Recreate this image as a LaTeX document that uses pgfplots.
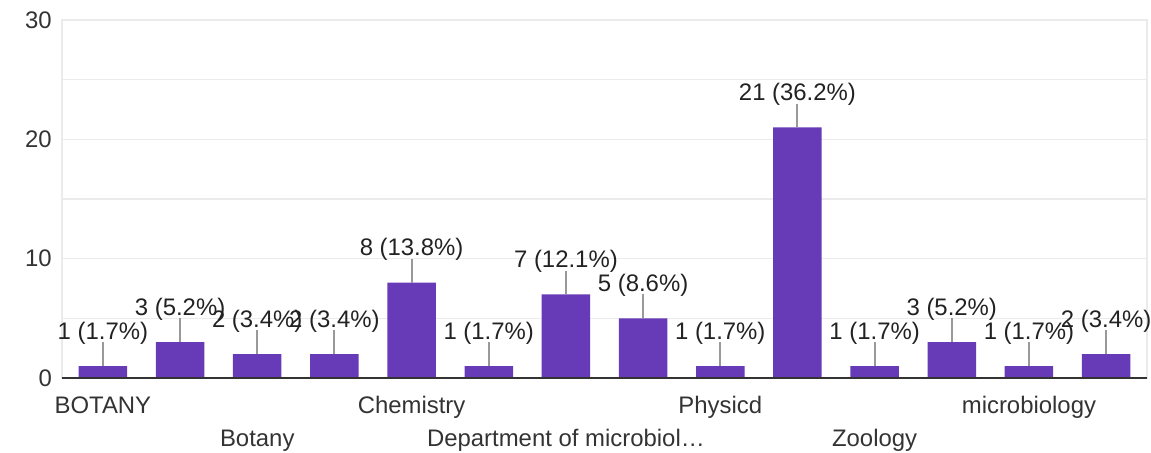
\documentclass[border=0pt]{standalone}
\usepackage{fontspec}
\setmainfont{Liberation Sans}
\usepackage{pgfplots}
\pgfplotsset{compat=1.18}
\definecolor{barpurple}{RGB}{103,58,183}
\definecolor{gridc}{RGB}{235,235,235}
\definecolor{txt}{RGB}{34,34,34}
\definecolor{ticktxt}{RGB}{51,51,51}
\definecolor{leader}{RGB}{153,153,153}
\definecolor{basec}{RGB}{51,51,51}
\begin{document}
\begin{tikzpicture}
\path[use as bounding box] (-62bp,-75bp) rectangle (1089bp,378bp);
\begin{axis}[
  at={(0,0)}, anchor=south west,
  scale only axis, width=1085bp, height=358bp,
  xmin=-0.53, xmax=13.53, ymin=0, ymax=30,
  ybar, bar width=48.5bp,
  ytick={0,10,20,30}, minor ytick={5,15,25},
  ymajorgrids, yminorgrids,
  major grid style={draw=gridc, line width=1.2bp},
  minor grid style={draw=gridc, line width=1.2bp},
  axis line style={draw=gridc, line width=1.5bp},
  major tick length=0pt, minor tick length=0pt,
  /pgf/number format/assume math mode=true,
  tick label style={font=\fontsize{24}{28}\selectfont, text=ticktxt},
  yticklabel style={anchor=east, inner sep=0pt, xshift=-10bp},
  xtick={0,4,8,12},
  xticklabels={BOTANY,Chemistry,Physicd,microbiology},
  xticklabel style={anchor=base, yshift=-35bp},
  extra x ticks={2,6,10},
  extra x tick labels={Botany,Department of microbiol…,Zoology},
  extra x tick style={xticklabel style={yshift=-33bp}},
  clip=false,
  nodes near coords,
  point meta=explicit symbolic,
  every node near coord/.append style={anchor=base, yshift=27bp, font=\fontsize{24}{28}\selectfont, text=txt},
]
\addplot[fill=barpurple, draw=none,
  error bars/.cd, y dir=plus, y fixed=2, error mark=none,
  error bar style={draw=leader, line width=2bp}]
  table[x=x, y=y, meta=lab, col sep=comma] {
x,y,lab
0,1,1 (1.7\%)
1,3,3 (5.2\%)
2,2,2 (3.4\%)
3,2,2 (3.4\%)
4,8,8 (13.8\%)
5,1,1 (1.7\%)
6,7,7 (12.1\%)
7,5,5 (8.6\%)
8,1,1 (1.7\%)
9,21,21 (36.2\%)
10,1,1 (1.7\%)
11,3,3 (5.2\%)
12,1,1 (1.7\%)
13,2,2 (3.4\%)
};
\draw[basec, line width=2bp] (rel axis cs:0,0) -- (rel axis cs:1,0);
\end{axis}
\end{tikzpicture}
\end{document}
